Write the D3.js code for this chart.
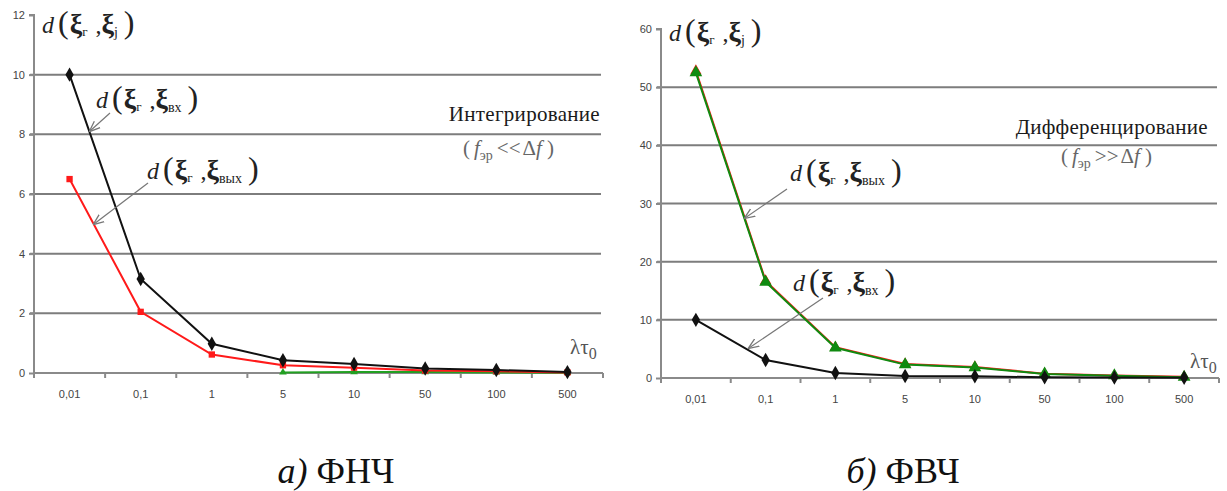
<!DOCTYPE html>
<html>
<head>
<meta charset="utf-8">
<script src="https://cdn.jsdelivr.net/npm/d3@7"></script>
<style>
  body { margin: 0; background: #fff; }
  svg { display: block; }
  .tick text { font-family: Arial, "Liberation Sans", sans-serif; font-size: 11px; fill: #444; }
  .serif { font-family: 'Liberation Serif', 'DejaVu Serif', 'Times New Roman', serif; }
</style>
</head>
<body>
<div id="chart"></div>
<script>
// categories of λτ0 and the distance values
const categories = ['0,01', '0,1', '1', '5', '10', '50', '100', '500'];

const lpfInput = [10, 3.15, 0.98, 0.43, 0.3, 0.15, 0.1, 0.03];   // d(ξг, ξвх), ФНЧ
const lpfOutput = [6.5, 2.05, 0.62, 0.26, 0.18, 0.08, 0.06, 0.02]; // d(ξг, ξвых), ФНЧ
const lpfThird = [null, null, null, 0.02, 0.03, 0.03, 0.02, 0.01];

const hpfInput = [10, 3.1, 0.85, 0.35, 0.3, 0.12, 0.1, 0.05];
const hpfOutputRed = [52.8, 16.7, 5.3, 2.4, 1.9, 0.75, 0.45, 0.2];
const hpfOutput = [52.5, 16.5, 5.2, 2.3, 1.8, 0.7, 0.4, 0.15];

const lpfTicks = [0, 2, 4, 6, 8, 10, 12];
const hpfTicks = [0, 10, 20, 30, 40, 50, 60];

const width = 1227, height = 491;
const svg = d3.select('#chart').append('svg')
    .attr('width', width)
    .attr('height', height);

function distLabel(g, x, y, sub) {
    const t = g.append('text')
        .attr('class', 'serif')
        .attr('x', x).attr('y', y)
        .attr('fill', '#222');
    t.append('tspan').attr('font-style', 'italic').attr('font-size', 24).text('d');
    t.append('tspan').attr('font-size', 32).attr('dx', 4).text('(');
    t.append('tspan').attr('font-size', 28).attr('font-weight', 'bold').attr('dx', 1).text('ξ');
    t.append('tspan').attr('font-size', 13).attr('dy', 3).text('г');
    t.append('tspan').attr('font-size', 24).attr('dy', -3).attr('dx', 2).text(' ,');
    t.append('tspan').attr('font-size', 28).attr('font-weight', 'bold').text('ξ');
    t.append('tspan').attr('font-size', 14).attr('dy', 4).text(sub);
    t.append('tspan').attr('font-size', 32).attr('dy', -4).attr('dx', 6).text(')');
}

function arrow(g, x1, y1, x2, y2) {
    g.append('line')
        .attr('x1', x1).attr('y1', y1).attr('x2', x2).attr('y2', y2)
        .attr('stroke', '#777').attr('stroke-width', 1.2)
        .attr('marker-end', 'url(#arrowhead)');
}

svg.append('defs').append('marker')
    .attr('id', 'arrowhead')
    .attr('viewBox', '0 0 10 10')
    .attr('refX', 9).attr('refY', 5)
    .attr('markerWidth', 9).attr('markerHeight', 9)
    .attr('orient', 'auto')
    .append('path')
    .attr('d', 'M0,1 L10,5 L0,9')
    .attr('fill', 'none')
    .attr('stroke', '#777')
    .attr('stroke-width', 1.2);

function drawPanel(cfg) {
    const g = svg.append('g');
    const x = d3.scaleBand().domain(categories).range([cfg.left, cfg.right]).padding(0);
    const y = d3.scaleLinear().domain([0, cfg.ticks[cfg.ticks.length - 1]]).range([cfg.bottom, cfg.top]);

    // horizontal gridlines
    g.selectAll('.grid')
        .data(cfg.ticks.slice(1, -1))
        .enter().append('line')
        .attr('x1', cfg.left - 4).attr('x2', cfg.right - 2)
        .attr('y1', d => y(d)).attr('y2', d => y(d))
        .attr('stroke', '#7d7d7d').attr('stroke-width', 2);

    // y axis
    const yAxis = g.append('g')
        .attr('transform', `translate(${cfg.left},0)`)
        .call(d3.axisLeft(y).tickValues(cfg.ticks).tickSize(5).tickPadding(4).tickFormat(d3.format('d')));
    yAxis.select('.domain').attr('stroke', '#8a8a8a').attr('stroke-width', 2)
        .attr('d', `M-5,${cfg.top}H0V${cfg.bottom}`);
    yAxis.selectAll('.tick line').attr('stroke', '#8a8a8a').attr('stroke-width', 2);

    // x axis: labels centred in bands, ticks at band edges
    const xAxis = g.append('g')
        .attr('transform', `translate(0,${cfg.bottom})`)
        .call(d3.axisBottom(x).tickSize(0).tickPadding(cfg.labelPad));
    xAxis.select('.domain').attr('stroke', '#8a8a8a').attr('stroke-width', 2)
        .attr('d', `M${cfg.left},0H${cfg.right}`);
    g.selectAll('.xtick')
        .data(d3.range(categories.length + 1))
        .enter().append('line')
        .attr('x1', i => cfg.left + i * x.step()).attr('x2', i => cfg.left + i * x.step())
        .attr('y1', cfg.bottom).attr('y2', cfg.bottom + 5)
        .attr('stroke', '#8a8a8a').attr('stroke-width', 2);

    const cx = d => x(d) + x.bandwidth() / 2;
    const line = d3.line()
        .defined(d => d !== null)
        .x((d, i) => cx(categories[i]))
        .y(d => y(d));

    cfg.series.forEach(s => {
        g.append('path')
            .datum(s.values)
            .attr('d', line)
            .attr('fill', 'none')
            .attr('stroke', s.color)
            .attr('stroke-width', 2);
        const sym = d3.symbol().type(s.symbol).size(s.size);
        g.selectAll(null)
            .data(s.values.map((v, i) => ({ v, i })).filter(d => d.v !== null))
            .enter().append('path')
            .attr('d', sym)
            .attr('transform', d => `translate(${cx(categories[d.i])},${y(d.v)})`)
            .attr('fill', s.color);
    });

    // annotations
    distLabel(g, cfg.left + 8, cfg.top + cfg.jDy, 'j');
    cfg.labels.forEach(l => {
        distLabel(g, l.x, l.y, l.sub);
        arrow(g, l.ax1, l.ay1, l.ax2, l.ay2);
    });

    g.append('text')
        .attr('class', 'serif')
        .attr('x', cfg.regime.x).attr('y', cfg.regime.y)
        .attr('text-anchor', 'end')
        .attr('font-size', 21).attr('fill', '#1a1a1a')
        .attr('letter-spacing', 0.3)
        .text(cfg.regime.text);

    const cond = g.append('text')
        .attr('class', 'serif')
        .attr('x', cfg.cond.x).attr('y', cfg.cond.y)
        .attr('font-size', 21).attr('fill', '#666');
    cond.append('tspan').text('(');
    cond.append('tspan').attr('font-style', 'italic').attr('dx', 4).text('f');
    cond.append('tspan').attr('font-size', 14).attr('dy', 5).text('эр');
    cond.append('tspan').attr('dy', -5).attr('dx', 4).text(cfg.cond.op);
    cond.append('tspan').attr('dx', 2).text('Δ');
    cond.append('tspan').attr('font-style', 'italic').text('f');
    cond.append('tspan').attr('dx', 5).text(')');

    const lt = g.append('text')
        .attr('class', 'serif')
        .attr('x', cfg.lambda.x).attr('y', cfg.lambda.y)
        .attr('font-size', 21).attr('fill', '#555');
    lt.append('tspan').text('λτ');
    lt.append('tspan').attr('font-size', 16).attr('dy', 5).text('0');

    svg.append('text')
        .attr('class', 'serif')
        .attr('x', cfg.caption.x).attr('y', 483)
        .attr('text-anchor', 'middle')
        .attr('font-size', 36).attr('fill', '#111')
        .call(t => {
            t.append('tspan').attr('font-style', 'italic').text(cfg.caption.a);
            t.append('tspan').text(' ' + cfg.caption.b);
        });
}

drawPanel({
    left: 34, right: 603, top: 15, bottom: 373, labelPad: 17, jDy: 18,
    ticks: lpfTicks,
    series: [
        { values: lpfThird, color: '#22a022', symbol: d3.symbolTriangle, size: 25 },
        { values: lpfOutput, color: '#ff1a1a', symbol: d3.symbolSquare, size: 40 },
        { values: lpfInput, color: '#111', symbol: d3.symbolDiamond, size: 60 }
    ],
    labels: [
        { x: 96, y: 108, sub: 'вх', ax1: 110, ay1: 113, ax2: 90, ay2: 131 },
        { x: 147, y: 179, sub: 'вых', ax1: 148, ay1: 183, ax2: 94, ay2: 224 }
    ],
    regime: { x: 600, y: 121, text: 'Интегрирование' },
    cond: { x: 463, y: 155, op: '<<' },
    lambda: { x: 570, y: 354 },
    caption: { x: 336, a: 'а)', b: 'ФНЧ' }
});

drawPanel({
    left: 661, right: 1219, top: 29, bottom: 378, labelPad: 17, jDy: 12,
    ticks: hpfTicks,
    series: [
        { values: hpfOutputRed, color: '#ff1a1a', symbol: d3.symbolTriangle, size: 55 },
        { values: hpfOutput, color: '#108a10', symbol: d3.symbolTriangle, size: 70 },
        { values: hpfInput, color: '#111', symbol: d3.symbolDiamond, size: 60 }
    ],
    labels: [
        { x: 790, y: 181, sub: 'вых', ax1: 787, ay1: 189, ax2: 745, ay2: 218 },
        { x: 793, y: 291, sub: 'вх', ax1: 823, ay1: 298, ax2: 749, ay2: 348 }
    ],
    regime: { x: 1208, y: 134, text: 'Дифференцирование' },
    cond: { x: 1061, y: 163, op: '>>' },
    lambda: { x: 1190, y: 368 },
    caption: { x: 903, a: 'б)', b: 'ФВЧ' }
});
</script>
</body>
</html>
